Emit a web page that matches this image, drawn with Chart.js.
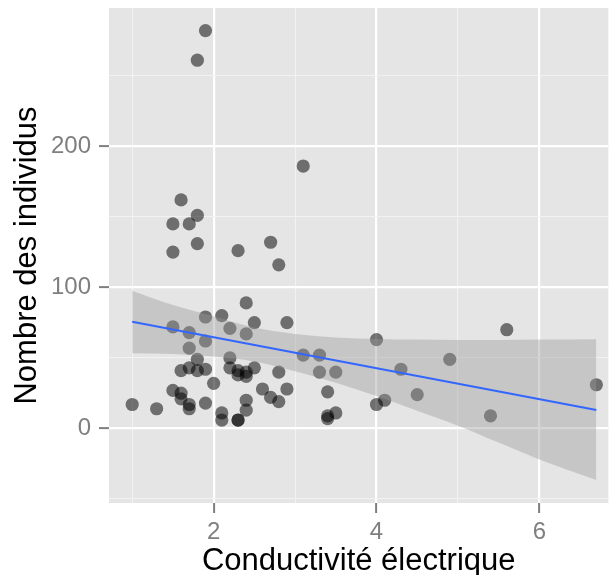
<!DOCTYPE html>
<html>
<head>
<meta charset="utf-8">
<script src="https://cdn.jsdelivr.net/npm/chart.js@4.4.1/dist/chart.umd.min.js"></script>
<style>
    html, body { margin: 0; padding: 0; background: #ffffff; }
    #wrap { width: 615px; height: 575px; }
</style>
</head>
<body>
<div id="wrap"><canvas id="nuage"></canvas></div>
<script>
// valeurs
const conductivite = [1.0, 1.3, 1.5, 1.5, 1.5, 1.5, 1.6, 1.6, 1.6, 1.6, 1.7, 1.7, 1.7, 1.7, 1.7, 1.7,
    1.8, 1.8, 1.8, 1.8, 1.8, 1.9, 1.9, 1.9, 1.9, 1.9, 2.0, 2.1, 2.1, 2.1, 2.2, 2.2, 2.2,
    2.3, 2.3, 2.3, 2.3, 2.3, 2.4, 2.4, 2.4, 2.4, 2.4, 2.4, 2.5, 2.5, 2.6, 2.7, 2.7,
    2.8, 2.8, 2.8, 2.9, 2.9, 3.1, 3.1, 3.3, 3.3, 3.4, 3.4, 3.4, 3.5, 3.5,
    4.0, 4.0, 4.1, 4.3, 4.5, 4.9, 5.4, 5.6, 6.7];
const individus = [17, 14, 27, 72, 125, 145, 21, 25, 41, 162, 14, 17, 43, 57, 68, 145,
    41, 49, 131, 151, 261, 18, 42, 62, 79, 282, 32, 6, 11, 80, 43, 50, 71,
    6, 6, 38, 41, 126, 13, 20, 37, 40, 67, 89, 43, 75, 28, 22, 132,
    19, 40, 116, 28, 75, 52, 186, 40, 52, 7, 9, 26, 11, 40,
    17, 63, 20, 42, 24, 49, 9, 70, 31];

// droite lm + intervalle de confiance (ruban gris)
const droiteX = [1.0, 6.7];
const droiteY = [75.7, 13.1];
const rubanX = [1.0, 1.5, 2.0, 2.5, 3.0, 3.5, 4.0, 4.5, 5.0, 5.5, 6.0, 6.7];
const rubanHaut = [97.7, 87.5, 79.5, 71.5, 67, 64.5, 63.5, 63, 62.8, 62.8, 63, 63.3];
const rubanBas = [53.3, 52.8, 51, 47.5, 40.5, 32.5, 23, 12.5, 2, -10, -22, -36.5];

// graduations
const xMajor = [2, 4, 6];
const xMinor = [1, 3, 5];
const yMajor = [0, 100, 200];
const yMinor = [-50, 50, 150, 250];

const police = "'Liberation Sans', Arial, sans-serif";
const gris = "#7f7f7f";

function pts(xs, ys) {
    return xs.map((x, i) => ({x: x, y: ys[i]}));
}

// fond gris du panneau (style ggplot)
const fondPanneau = {
    id: "fondPanneau",
    beforeDraw(chart) {
        const {ctx, chartArea} = chart;
        ctx.save();
        ctx.fillStyle = "#e5e5e5";
        ctx.fillRect(chartArea.left, chartArea.top, chartArea.right - chartArea.left, chartArea.bottom - chartArea.top);
        ctx.restore();
    }
};

function grille(major) {
    return {
        color: c => major.includes(c.tick.value) ? "#ffffff" : "#f2f2f2",
        lineWidth: c => major.includes(c.tick.value) ? 2.2 : 1.1,
        tickColor: c => major.includes(c.tick.value) ? gris : "rgba(0,0,0,0)",
        tickWidth: 2,
        tickLength: 10,
    };
}

new Chart(document.getElementById("nuage"), {
    type: "scatter",
    data: {
        datasets: [
            {
                data: pts(rubanX, rubanHaut),
                showLine: true,
                pointRadius: 0,
                borderWidth: 0,
                borderColor: "rgba(0,0,0,0)",
                backgroundColor: "rgba(153,153,153,0.4)",
                cubicInterpolationMode: "monotone",
                fill: "+1",
                order: 2,
            },
            {
                data: pts(rubanX, rubanBas),
                showLine: true,
                pointRadius: 0,
                borderWidth: 0,
                borderColor: "rgba(0,0,0,0)",
                cubicInterpolationMode: "monotone",
                fill: false,
                order: 2,
            },
            {
                data: pts(droiteX, droiteY),
                showLine: true,
                pointRadius: 0,
                borderWidth: 2,
                borderColor: "#3366ff",
                fill: false,
                order: 1,
            },
            {
                data: pts(conductivite, individus),
                pointRadius: 6.6,
                pointBorderWidth: 0,
                pointBackgroundColor: "rgba(0,0,0,0.52)",
                pointBorderColor: "rgba(0,0,0,0)",
                order: 3,
            },
        ]
    },
    options: {
        responsive: true,
        maintainAspectRatio: false,
        animation: false,
        layout: {padding: {top: 8, left: 0, right: 0, bottom: 0}},
        plugins: {
            legend: {display: false},
            tooltip: {enabled: false},
        },
        scales: {
            x: {
                type: "linear",
                min: 0.715,
                max: 6.848,
                border: {display: false},
                grid: grille(xMajor),
                afterBuildTicks: s => {
                    s.ticks = [...xMinor, ...xMajor].sort((a, b) => a - b).map(v => ({value: v}));
                },
                afterFit: s => {
                    s.height = 72;
                    s.paddingLeft = 0;
                    s.paddingRight = 0;
                },
                ticks: {
                    autoSkip: false,
                    maxRotation: 0,
                    padding: 5,
                    color: gris,
                    font: {family: police, size: 24},
                    callback: v => xMajor.includes(v) ? String(v) : "",
                },
                title: {
                    display: true,
                    text: "Conductivité électrique",
                    color: "#000000",
                    font: {family: police, size: 31},
                    padding: {top: 0, bottom: -5},
                },
            },
            y: {
                type: "linear",
                min: -52.8,
                max: 298,
                border: {display: false},
                grid: grille(yMajor),
                afterBuildTicks: s => {
                    s.ticks = [...yMinor, ...yMajor].sort((a, b) => a - b).map(v => ({value: v}));
                },
                afterFit: s => {
                    s.width = 109;
                    s.paddingTop = 0;
                    s.paddingBottom = 0;
                },
                ticks: {
                    autoSkip: false,
                    padding: 8,
                    color: gris,
                    font: {family: police, size: 24},
                    callback: v => yMajor.includes(v) ? String(v) : "",
                },
                title: {
                    display: true,
                    text: "Nombre des individus",
                    color: "#000000",
                    font: {family: police, size: 31},
                    padding: {top: 9, bottom: 0},
                },
            },
        },
    },
    plugins: [fondPanneau],
});
</script>
</body>
</html>
